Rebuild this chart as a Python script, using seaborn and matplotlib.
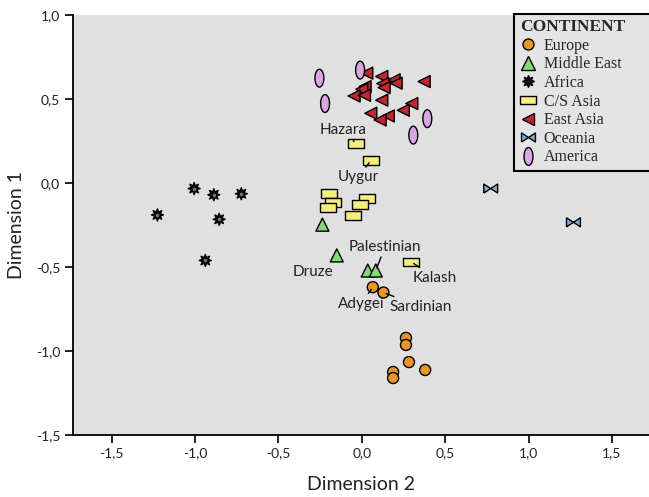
import numpy as np
import pandas as pd
import matplotlib
matplotlib.use('Agg')
import matplotlib.pyplot as plt
from matplotlib.ticker import FuncFormatter, MultipleLocator
import seaborn as sns

# values (Dimension 2 = x, Dimension 1 = y)
continents = ['Europe', 'Middle East', 'Africa', 'C/S Asia', 'East Asia', 'Oceania', 'America']

europe_x = [0.066, 0.130, 0.265, 0.265, 0.283, 0.188, 0.188, 0.380]
europe_y = [-0.620, -0.652, -0.922, -0.964, -1.066, -1.125, -1.161, -1.113]

middle_east_x = [-0.236, -0.150, 0.036, 0.084]
middle_east_y = [-0.248, -0.431, -0.521, -0.521]

africa_x = [-1.005, -0.887, -0.722, -1.225, -0.855, -0.938]
africa_y = [-0.033, -0.070, -0.064, -0.190, -0.216, -0.461]

cs_asia_x = [-0.034, 0.054, -0.198, -0.170, -0.204, 0.032, -0.010, -0.052, 0.297]
cs_asia_y = [0.235, 0.134, -0.064, -0.118, -0.144, -0.093, -0.128, -0.194, -0.470]

east_asia_x = [0.030, 0.120, 0.194, 0.206, 0.374, 0.126, 0.134, 0.020, 0.000,
               -0.046, 0.016, 0.120, 0.300, 0.249, 0.054, 0.159, 0.110]
east_asia_y = [0.654, 0.634, 0.614, 0.594, 0.604, 0.592, 0.568, 0.574, 0.558,
               0.518, 0.522, 0.493, 0.473, 0.433, 0.415, 0.399, 0.375]

oceania_x = [0.773, 1.269]
oceania_y = [-0.033, -0.234]

america_x = [-0.254, -0.220, -0.010, 0.393, 0.309]
america_y = [0.624, 0.473, 0.672, 0.383, 0.285]

# labelled populations: (name, point x, point y)
label_names = ['Hazara', 'Uygur', 'Palestinian', 'Druze', 'Kalash', 'Adygei', 'Sardinian']
label_px = [-0.034, 0.054, 0.084, 0.036, 0.297, 0.066, 0.130]
label_py = [0.235, 0.134, -0.521, -0.521, -0.470, -0.620, -0.652]

xs = [europe_x, middle_east_x, africa_x, cs_asia_x, east_asia_x, oceania_x, america_x]
ys = [europe_y, middle_east_y, africa_y, cs_asia_y, east_asia_y, oceania_y, america_y]
df = pd.concat([pd.DataFrame({'Dimension 2': x, 'Dimension 1': y, 'CONTINENT': c})
                for c, x, y in zip(continents, xs, ys)], ignore_index=True)

# marker shapes
rect = [(-1, -0.55), (1, -0.55), (1, 0.55), (-1, 0.55), (-1, -0.55)]
bowtie = [(-1, -0.65), (0, 0), (1, -0.65), (1, 0.65), (0, 0), (-1, 0.65), (-1, -0.65)]
t = np.linspace(0, 2 * np.pi, 40)
ellipse = list(zip(0.5 * np.cos(t), np.sin(t)))

markers = {'Europe': 'o', 'Middle East': '^', 'Africa': (8, 1, 0), 'C/S Asia': rect,
           'East Asia': '<', 'Oceania': bowtie, 'America': ellipse}
palette = {'Europe': '#E8952C', 'Middle East': '#84D97A', 'Africa': '#111111',
           'C/S Asia': '#F4EE7C', 'East Asia': '#C1272D', 'Oceania': '#7FAEDB',
           'America': '#D8A6E0'}
sizes = {'Europe': 63, 'Middle East': 88, 'Africa': 75, 'C/S Asia': 135,
         'East Asia': 75, 'Oceania': 100, 'America': 165}

sns.set_theme(style='ticks')
plt.rcParams['font.family'] = ['Lato', 'DejaVu Sans']

fig = plt.figure(figsize=(6.49, 4.97), dpi=100)
ax = fig.add_axes([72.7 / 649, 1 - 435 / 497, (649 - 72.7) / 649, 420 / 497])
ax.set_facecolor('#e0e0e0')

sns.scatterplot(data=df, x='Dimension 2', y='Dimension 1', hue='CONTINENT',
                style='CONTINENT', size='CONTINENT', markers=markers,
                palette=palette, sizes=sizes, hue_order=continents,
                style_order=continents, size_order=continents,
                edgecolor='black', linewidth=1, ax=ax, zorder=3)

# light centre of the Africa gear symbol
afr = df[df['CONTINENT'] == 'Africa']
ax.scatter(afr['Dimension 2'], afr['Dimension 1'], s=6, color='#777777', zorder=4,
           linewidths=0)

# annotations
text_pos = {'Hazara': (-0.112, 0.313), 'Uygur': (-0.022, 0.033),
            'Palestinian': (0.140, -0.379), 'Druze': (-0.292, -0.528),
            'Kalash': (0.440, -0.564), 'Adygei': (-0.004, -0.719),
            'Sardinian': (0.356, -0.737)}
for name, px, py in zip(label_names, label_px, label_py):
    tx, ty = text_pos[name]
    arrow = None if name == 'Druze' else dict(arrowstyle='-', color='black', lw=1,
                                              shrinkA=0, shrinkB=2)
    ax.annotate(name, xy=(px, py), xytext=(tx, ty), ha='center', va='center',
                fontsize=11, color='#222222', arrowprops=arrow, zorder=5)

ax.set_xlim(-1.733, 1.722)
ax.set_ylim(-1.5, 1.0)
ax.xaxis.set_major_locator(MultipleLocator(0.5))
ax.yaxis.set_major_locator(MultipleLocator(0.5))
fmt = FuncFormatter(lambda v, p: f'{v:.1f}'.replace('.', ','))
ax.xaxis.set_major_formatter(fmt)
ax.yaxis.set_major_formatter(fmt)
ax.tick_params(direction='out', length=6, width=1.2, color='black',
               labelsize=10, labelcolor='#222222', pad=3)
for s in ['top', 'right']:
    ax.spines[s].set_visible(False)
for s in ['left', 'bottom']:
    ax.spines[s].set_color('black')
    ax.spines[s].set_linewidth(1.3)

ax.set_xlabel('Dimension 2', fontsize=14, color='#222222', labelpad=12)
ax.set_ylabel('Dimension 1', fontsize=14, color='#222222', labelpad=8)

# legend runs off the right edge, as in the cropped original
handles, labels = ax.get_legend_handles_labels()
leg = ax.legend(handles, labels, title='CONTINENT', loc='upper left',
                bbox_to_anchor=(0.766, 0, 0.3, 1.003), mode='expand',
                frameon=True, fancybox=False,
                framealpha=1, facecolor='#e4e4e4', edgecolor='black',
                prop={'family': 'Liberation Serif', 'size': 11.5},
                title_fontproperties={'family': 'Liberation Serif', 'weight': 'bold', 'size': 12.5},
                alignment='left', labelspacing=0.16, handlelength=1.0,
                handletextpad=0.5, borderpad=0.35, borderaxespad=0)
leg.get_frame().set_linewidth(1.5)

plt.savefig('out.png', dpi=100)
